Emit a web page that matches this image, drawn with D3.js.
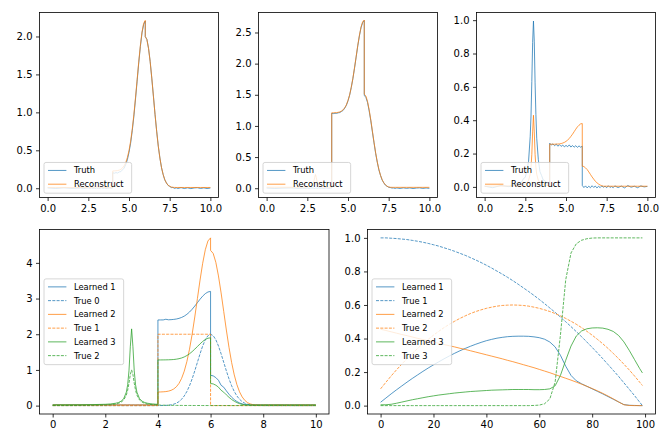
<!DOCTYPE html>
<html><head><meta charset="utf-8">
<script src="https://cdn.jsdelivr.net/npm/d3@7"></script>
<style>body{margin:0;background:#fff}svg text{font-family:"DejaVu Sans",sans-serif}</style>
</head><body>
<svg id="chart" width="669" height="446"></svg>
<script>
// ---------- spectral grid (x) ----------
const xGrid = [0,0.5,1,1.5,2,2.2,2.4,2.5,2.6,2.7,2.8,2.85,2.9,2.95,3,3.05,3.1,3.15,3.2,3.3,3.4,3.5,3.6,3.7,3.8,3.9,4,
4,4.1,4.2,4.3,4.4,4.5,4.6,4.7,4.8,4.9,5,5.1,5.2,5.3,5.4,5.5,5.6,5.7,5.8,5.9,6,
6,6.1,6.2,6.3,6.4,6.5,6.6,6.7,6.8,6.9,7,7.1,7.2,7.3,7.4,7.5,7.6,7.7,7.8,7.9,8,
8.2,8.4,8.6,8.8,9,9.2,9.4,9.6,9.8,10];

// ---------- top panels ----------
const truth1 = [0.004,-0.003,0.005,-0.002,0.003,-0.004,0.002,0.005,-0.003,0.004,-0.002,0.003,0.001,-0.003,0.004,-0.002,0.003,0.000,-0.004,0.005,-0.002,0.003,-0.003,0.002,0.004,-0.001,0.003,
0.205,0.198,0.206,0.201,0.215,0.219,0.243,0.265,0.314,0.376,0.473,0.594,0.758,0.949,1.176,1.411,1.654,1.869,2.048,2.158,2.203,
1.998,1.962,1.844,1.673,1.450,1.215,0.972,0.753,0.554,0.398,0.269,0.180,0.110,0.071,0.037,0.026,0.009,0.011,-0.002,0.006,-0.003,
0.008,-0.004,0.006,-0.005,0.004,0.007,-0.003,0.005,-0.004,0.003];
const recon1 = [0.010,0.010,0.010,0.010,0.010,0.010,0.010,0.010,0.010,0.011,0.011,0.012,0.014,0.018,0.020,0.018,0.014,0.012,0.011,0.010,0.010,0.010,0.010,0.010,0.010,0.010,0.010,
0.228,0.229,0.230,0.233,0.239,0.249,0.267,0.295,0.339,0.404,0.496,0.620,0.779,0.972,1.193,1.431,1.668,1.885,2.059,2.173,2.212,
1.999,1.959,1.845,1.670,1.452,1.212,0.974,0.750,0.555,0.396,0.271,0.178,0.112,0.068,0.041,0.025,0.016,0.012,0.011,0.010,0.010,
0.010,0.010,0.010,0.010,0.010,0.010,0.010,0.010,0.010,0.010];
const truth2 = [0.003,-0.004,0.002,0.005,-0.003,0.001,-0.002,0.004,-0.003,0.002,0.005,-0.001,0.003,-0.004,0.002,0.004,-0.003,0.001,0.005,-0.002,0.003,-0.004,0.002,0.004,-0.003,0.001,0.002,
1.203,1.198,1.204,1.202,1.211,1.215,1.233,1.249,1.287,1.330,1.404,1.493,1.616,1.757,1.927,2.102,2.284,2.443,2.577,2.658,2.692,
1.492,1.458,1.377,1.243,1.084,0.902,0.727,0.557,0.416,0.293,0.204,0.130,0.086,0.049,0.032,0.015,0.011,0.003,0.004,-0.003,0.005,
-0.004,0.006,-0.002,0.005,-0.005,0.003,0.006,-0.003,0.004,-0.002];
const recon2 = [0.016,0.016,0.016,0.016,0.017,0.018,0.020,0.022,0.025,0.032,0.050,0.070,0.107,0.172,0.220,0.172,0.107,0.070,0.050,0.032,0.025,0.022,0.020,0.019,0.018,0.017,0.017,
1.210,1.211,1.212,1.214,1.219,1.226,1.239,1.259,1.291,1.339,1.408,1.500,1.620,1.765,1.932,2.112,2.292,2.456,2.587,2.672,2.700,
1.510,1.480,1.394,1.262,1.097,0.917,0.736,0.568,0.421,0.300,0.206,0.136,0.087,0.053,0.032,0.020,0.015,0.014,0.014,0.014,0.014,
0.014,0.014,0.014,0.014,0.014,0.014,0.014,0.014,0.014,0.014];
const truth3 = [0.004,-0.005,0.009,0.001,0.022,0.019,0.051,0.058,0.101,0.154,0.301,0.425,0.632,0.867,0.995,0.874,0.624,0.433,0.292,0.163,0.091,0.068,0.041,0.038,0.021,0.026,0.013,
0.262,0.251,0.258,0.247,0.256,0.244,0.253,0.243,0.251,0.240,0.249,0.241,0.252,0.239,0.248,0.238,0.247,0.237,0.246,0.238,0.244,
0.009,-0.004,0.006,-0.006,0.004,-0.005,0.007,-0.003,0.005,-0.006,0.003,-0.004,0.006,-0.002,0.004,-0.005,0.007,-0.003,0.002,-0.005,0.006,
-0.004,0.005,-0.006,0.008,-0.002,0.004,-0.005,0.006,0.000,0.003];
const recon3 = [0.004,0.005,0.005,0.006,0.007,0.009,0.013,0.017,0.025,0.039,0.076,0.117,0.195,0.330,0.430,0.330,0.195,0.117,0.076,0.039,0.025,0.017,0.013,0.011,0.009,0.008,0.007,
0.256,0.256,0.256,0.256,0.257,0.257,0.258,0.260,0.263,0.267,0.273,0.281,0.290,0.303,0.316,0.331,0.346,0.360,0.370,0.378,0.380,
0.124,0.122,0.114,0.104,0.090,0.075,0.060,0.047,0.034,0.025,0.017,0.011,0.007,0.004,0.004,0.004,0.004,0.004,0.004,0.004,0.004,
0.004,0.004,0.004,0.004,0.004,0.004,0.004,0.004,0.004,0.004];

// ---------- bottom-left: components ----------
const learned1 = [0.020,0.020,0.020,0.020,0.020,0.020,0.020,0.020,0.020,0.020,0.020,0.020,0.020,0.020,0.020,0.020,0.020,0.020,0.020,0.020,0.020,0.020,0.020,0.020,0.020,0.020,0.020,
2.400,2.401,2.401,2.420,2.405,2.409,2.416,2.427,2.445,2.471,2.508,2.558,2.622,2.700,2.790,2.885,2.981,3.068,3.138,3.184,3.200,
0.850,0.833,0.785,0.710,0.570,0.516,0.414,0.319,0.236,0.168,0.115,0.076,0.048,0.030,0.022,0.020,0.020,0.020,0.020,0.020,0.020,
0.020,0.020,0.020,0.020,0.020,0.020,0.020,0.020,0.020,0.020];
const true0 = [0,0,0,0,0,0,0,0,0,0,0,0,0,0,0,0,0,0,0,0,0,0,0,0,0,0,0.001,
0.001,0.002,0.003,0.006,0.012,0.022,0.040,0.068,0.112,0.178,0.271,0.396,0.556,0.751,0.974,1.213,1.452,1.671,1.846,1.960,2.000,
2.000,1.960,1.846,1.671,1.452,1.213,0.974,0.751,0.556,0.396,0.271,0.178,0.112,0.068,0.040,0.022,0.012,0.006,0.003,0.002,0.001,
0,0,0,0,0,0,0,0,0,0];
const learned2 = [0.020,0.020,0.020,0.020,0.020,0.020,0.020,0.020,0.020,0.020,0.020,0.020,0.020,0.020,0.020,0.020,0.020,0.020,0.020,0.020,0.020,0.020,0.020,0.020,0.020,0.020,0.020,
0.381,0.383,0.387,0.393,0.406,0.428,0.466,0.527,0.622,0.764,0.965,1.235,1.581,2.001,2.483,3.000,3.517,3.988,4.368,4.614,4.700,
4.350,4.264,4.015,3.634,3.159,2.638,2.118,1.633,1.209,0.861,0.589,0.387,0.244,0.148,0.086,0.048,0.030,0.023,0.021,0.020,0.020,
0.020,0.020,0.020,0.020,0.020,0.020,0.020,0.020,0.020,0.020];
const true1 = [0,0,0,0,0,0,0,0,0,0,0,0,0,0,0,0,0,0,0,0,0,0,0,0,0,0,0,
2,2,2,2,2,2,2,2,2,2,2,2,2,2,2,2,2,2,2,2,2,
0,0,0,0,0,0,0,0,0,0,0,0,0,0,0,0,0,0,0,0,0,
0,0,0,0,0,0,0,0,0,0];
const learned3 = [0.022,0.023,0.024,0.028,0.037,0.047,0.067,0.087,0.123,0.196,0.379,0.584,0.973,1.648,2.150,1.648,0.973,0.584,0.379,0.196,0.123,0.087,0.067,0.055,0.047,0.041,0.037,
1.280,1.280,1.281,1.282,1.284,1.287,1.292,1.301,1.315,1.335,1.364,1.403,1.452,1.513,1.582,1.656,1.730,1.798,1.852,1.888,1.900,
0.620,0.608,0.572,0.518,0.430,0.376,0.302,0.233,0.172,0.123,0.084,0.055,0.035,0.025,0.021,0.020,0.020,0.020,0.020,0.020,0.020,
0.020,0.020,0.020,0.020,0.020,0.020,0.020,0.020,0.020,0.020];
const true2 = [0.002,0.003,0.004,0.008,0.017,0.026,0.045,0.063,0.096,0.158,0.297,0.429,0.628,0.871,1.000,0.871,0.628,0.429,0.297,0.158,0.096,0.063,0.045,0.033,0.026,0.020,0.017,
0.017,0.014,0.012,0.010,0.009,0.008,0.007,0.006,0.005,0.005,0.004,0.004,0.004,0.003,0.003,0.003,0.003,0.002,0.002,0.002,0.002,
0.002,0.002,0.002,0.002,0.002,0.002,0.002,0.001,0.001,0.001,0.001,0.001,0.001,0.001,0.001,0.001,0.001,0.001,0.001,0.001,0.001,
0.001,0.001,0.001,0.001,0.001,0,0,0,0,0];

// ---------- bottom-right: weights over time ----------
const tIndex = [0,2,4,6,8,10,12,14,16,18,20,22,24,26,28,30,32,34,36,38,40,42,44,46,48,50,52,54,56,58,60,62,64,66,68,70,72,74,76,78,80,82,84,86,88,90,92,94,96,98,99];
const wLearned1 = [0.020,0.045,0.070,0.094,0.117,0.140,0.162,0.183,0.204,0.224,0.243,0.261,0.279,0.296,0.312,0.327,0.341,0.354,0.366,0.377,0.387,0.395,0.402,0.407,0.411,0.413,
0.414,0.414,0.413,0.410,0.405,0.396,0.379,0.350,0.300,0.235,0.180,0.148,0.130,0.115,0.100,0.085,0.070,0.054,0.038,0.022,0.006,0.002,0.001,0.000,0.000];
const wTrue1 = [1.000,1.000,0.998,0.996,0.993,0.990,0.985,0.980,0.974,0.967,0.959,0.951,0.941,0.931,0.920,0.908,0.896,0.882,0.868,0.853,0.837,0.820,0.802,0.784,0.765,0.745,
0.724,0.702,0.680,0.657,0.633,0.608,0.582,0.556,0.528,0.500,0.471,0.441,0.411,0.379,0.347,0.314,0.280,0.245,0.210,0.174,0.136,0.098,0.060,0.020,0.000];
const wLearned2 = [0.455,0.448,0.440,0.432,0.424,0.417,0.409,0.401,0.394,0.386,0.379,0.371,0.364,0.357,0.350,0.342,0.335,0.327,0.319,0.311,0.303,0.295,0.287,0.279,0.270,0.262,
0.253,0.244,0.235,0.226,0.216,0.206,0.196,0.185,0.174,0.163,0.152,0.140,0.128,0.115,0.102,0.088,0.073,0.057,0.040,0.022,0.005,0.001,0.000,0.000,0.000];
const wTrue2 = [0.100,0.139,0.177,0.213,0.247,0.280,0.311,0.341,0.369,0.395,0.420,0.443,0.465,0.485,0.503,0.520,0.535,0.549,0.561,0.571,0.580,0.587,0.593,0.597,0.599,0.600,
0.599,0.597,0.593,0.587,0.580,0.571,0.561,0.549,0.535,0.520,0.503,0.485,0.465,0.443,0.420,0.395,0.369,0.341,0.311,0.280,0.247,0.213,0.177,0.139,0.120];
const wLearned3 = [0.005,0.005,0.008,0.014,0.021,0.028,0.035,0.041,0.047,0.053,0.058,0.063,0.067,0.071,0.075,0.078,0.081,0.084,0.086,0.088,0.090,0.092,0.093,0.094,0.095,0.096,
0.096,0.096,0.096,0.095,0.095,0.096,0.100,0.118,0.180,0.270,0.355,0.415,0.445,0.458,0.463,0.464,0.462,0.455,0.442,0.418,0.380,0.330,0.275,0.220,0.195];
const wTrue3 = [0,0,0,0,0,0,0,0,0,0,0,0,0,0,0,0,0,0,0,0,0,0,0,0,0,0,
0,0,0,0.001,0.003,0.011,0.040,0.140,0.420,0.750,0.910,0.965,0.986,0.995,0.999,1.000,1.000,1.000,1.000,1.000,1.000,1.000,1.000,1.000,1.000];

// ---------- ticks & labels ----------
const topXTicks = [0, 2.5, 5, 7.5, 10];
const p1YTicks = [0, 0.5, 1, 1.5, 2];
const p2YTicks = [0, 0.5, 1, 1.5, 2, 2.5];
const p3YTicks = [0, 0.2, 0.4, 0.6, 0.8, 1];
const specXTicks = [0, 2, 4, 6, 8, 10];
const specYTicks = [0, 1, 2, 3, 4];
const timeXTicks = [0, 20, 40, 60, 80, 100];
const weightYTicks = [0, 0.2, 0.4, 0.6, 0.8, 1];
const topLabels = ["Truth", "Reconstruct"];
const specLabels = ["Learned 1", "True 0", "Learned 2", "True 1", "Learned 3", "True 2"];
const weightLabels = ["Learned 1", "True 1", "Learned 2", "True 2", "Learned 3", "True 3"];

const C = {blue: "#1f77b4", orange: "#ff7f0e", green: "#2ca02c"};
const svg = d3.select("#chart");
let clipN = 0;

function drawPanel(cfg) {
  const b = cfg.box;
  const x = d3.scaleLinear().domain(cfg.xDomain).range([b.l, b.r]);
  const y = d3.scaleLinear().domain(cfg.yDomain).range([b.b, b.t]);
  const g = svg.append("g");
  const cid = "clip" + (clipN++);
  svg.append("clipPath").attr("id", cid).append("rect")
    .attr("x", b.l).attr("y", b.t).attr("width", b.r - b.l).attr("height", b.b - b.t);
  const plot = g.append("g").attr("clip-path", `url(#${cid})`);
  cfg.series.forEach(s => {
    const line = d3.line().x((d, i) => x(s.x[i])).y(d => y(d));
    plot.append("path").datum(s.y).attr("d", line)
      .attr("fill", "none").attr("stroke", s.color)
      .attr("stroke-width", 0.9).attr("stroke-opacity", 0.85)
      .attr("stroke-linejoin", "round")
      .attr("stroke-dasharray", s.dash ? "3,1.3" : null);
  });
  const xa = d3.axisBottom(x).tickValues(cfg.xTicks).tickFormat(cfg.xFormat)
    .tickSizeInner(3.5).tickSizeOuter(0).tickPadding(3.5);
  const ya = d3.axisLeft(y).tickValues(cfg.yTicks).tickFormat(cfg.yFormat)
    .tickSizeInner(3.5).tickSizeOuter(0).tickPadding(3.5);
  const styleAxis = a => {
    a.select(".domain").remove();
    a.attr("font-family", "DejaVu Sans").attr("font-size", 10);
    a.selectAll("line").attr("stroke", "#000").attr("stroke-width", 0.8);
    a.selectAll("text").attr("fill", "#000");
  };
  g.append("g").attr("transform", `translate(0,${b.b})`).call(xa).call(styleAxis);
  g.append("g").attr("transform", `translate(${b.l},0)`).call(ya).call(styleAxis);
  g.append("rect").attr("x", b.l).attr("y", b.t).attr("width", b.r - b.l).attr("height", b.b - b.t)
    .attr("fill", "none").attr("stroke", "#000").attr("stroke-width", 0.8);

  // legend
  const n = cfg.series.length;
  const rowH = 13.75;
  const h = 8 + (n - 1) * rowH + 9;
  const lx = b.l + 4.5;
  const ly = cfg.legendLoc === "lower left" ? b.b - 4.3 - h : (b.t + b.b) / 2 - h / 2;
  const lg = g.append("g");
  const bg = lg.append("rect").attr("x", lx).attr("y", ly).attr("height", h).attr("rx", 2)
    .attr("fill", "#fff").attr("fill-opacity", 0.8).attr("stroke", "#cccccc").attr("stroke-width", 0.8);
  let maxW = 0;
  cfg.series.forEach((s, i) => {
    const cy = ly + 8 + i * rowH;
    lg.append("line").attr("x1", lx + 4).attr("x2", lx + 22.4).attr("y1", cy).attr("y2", cy)
      .attr("stroke", s.color).attr("stroke-width", 0.9).attr("stroke-opacity", 0.85)
      .attr("stroke-dasharray", s.dash ? "3,1.3" : null);
    const t = lg.append("text").attr("x", lx + 30).attr("y", cy).attr("dy", "0.35em")
      .attr("font-size", 8.33).attr("fill", "#000").text(s.label);
    maxW = Math.max(maxW, t.node().getComputedTextLength());
  });
  bg.attr("width", 30 + maxW + 8);
}

const f1 = d3.format(".1f"), f0 = d3.format("d");

drawPanel({
  box: {l: 39.5, r: 218.5, t: 12.5, b: 197.5},
  xDomain: [-0.5, 10.5], yDomain: [-0.122, 2.316],
  xTicks: topXTicks, yTicks: p1YTicks, xFormat: f1, yFormat: f1, legendLoc: "lower left",
  series: [
    {x: xGrid, y: truth1, color: C.blue, label: topLabels[0]},
    {x: xGrid, y: recon1, color: C.orange, label: topLabels[1]}
  ]
});
drawPanel({
  box: {l: 258.5, r: 437.5, t: 12.5, b: 197.5},
  xDomain: [-0.5, 10.5], yDomain: [-0.149, 2.821],
  xTicks: topXTicks, yTicks: p2YTicks, xFormat: f1, yFormat: f1, legendLoc: "lower left",
  series: [
    {x: xGrid, y: truth2, color: C.blue, label: topLabels[0]},
    {x: xGrid, y: recon2, color: C.orange, label: topLabels[1]}
  ]
});
drawPanel({
  box: {l: 476.5, r: 655.5, t: 12.5, b: 197.5},
  xDomain: [-0.5, 10.5], yDomain: [-0.0636, 1.046],
  xTicks: topXTicks, yTicks: p3YTicks, xFormat: f1, yFormat: f1, legendLoc: "lower left",
  series: [
    {x: xGrid, y: truth3, color: C.blue, label: topLabels[0]},
    {x: xGrid, y: recon3, color: C.orange, label: topLabels[1]}
  ]
});
drawPanel({
  box: {l: 39.5, r: 329, t: 229.5, b: 414},
  xDomain: [-0.5, 10.5], yDomain: [-0.235, 4.935],
  xTicks: specXTicks, yTicks: specYTicks, xFormat: f0, yFormat: f0, legendLoc: "center left",
  series: [
    {x: xGrid, y: learned1, color: C.blue, label: specLabels[0]},
    {x: xGrid, y: true0, color: C.blue, dash: true, label: specLabels[1]},
    {x: xGrid, y: learned2, color: C.orange, label: specLabels[2]},
    {x: xGrid, y: true1, color: C.orange, dash: true, label: specLabels[3]},
    {x: xGrid, y: learned3, color: C.green, label: specLabels[4]},
    {x: xGrid, y: true2, color: C.green, dash: true, label: specLabels[5]}
  ]
});
drawPanel({
  box: {l: 367.5, r: 655.5, t: 229.5, b: 414},
  xDomain: [-4.95, 103.95], yDomain: [-0.05, 1.05],
  xTicks: timeXTicks, yTicks: weightYTicks, xFormat: f0, yFormat: f1, legendLoc: "center left",
  series: [
    {x: tIndex, y: wLearned1, color: C.blue, label: weightLabels[0]},
    {x: tIndex, y: wTrue1, color: C.blue, dash: true, label: weightLabels[1]},
    {x: tIndex, y: wLearned2, color: C.orange, label: weightLabels[2]},
    {x: tIndex, y: wTrue2, color: C.orange, dash: true, label: weightLabels[3]},
    {x: tIndex, y: wLearned3, color: C.green, label: weightLabels[4]},
    {x: tIndex, y: wTrue3, color: C.green, dash: true, label: weightLabels[5]}
  ]
});
</script>
</body></html>
